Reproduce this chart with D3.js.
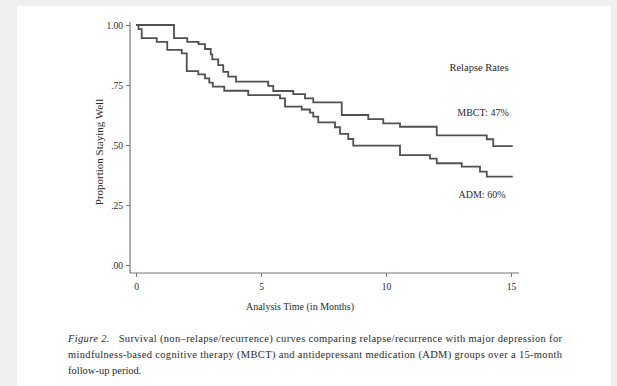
<!DOCTYPE html>
<meta charset="utf-8">
<script src="https://d3js.org/d3.v7.min.js"></script>
<style>
  body { margin: 0; background: #f0f0f0; }
  text { font-family: "Liberation Serif", "Times New Roman", serif; fill: #2a2a2a; }
</style>
<div id="chart"></div>
<script>

    // step points: month, proportion staying well after the step
    var mbctTime = [0, 1.52, 2.05, 2.5, 2.76, 2.99, 3.05, 3.29, 3.49, 3.69, 4.0, 5.29, 5.49, 6.29, 6.76, 7.09, 8.23, 9.29, 9.89, 10.56, 12.03, 14.03, 14.29, 15.07]
    var mbctSurv = [1.0, 0.945, 0.93, 0.92, 0.90, 0.878, 0.857, 0.833, 0.805, 0.785, 0.764, 0.746, 0.725, 0.712, 0.694, 0.678, 0.625, 0.608, 0.59, 0.576, 0.54, 0.524, 0.495, 0.495]

    var admTime = [0, 0.1, 0.23, 0.83, 1.25, 1.83, 2.03, 2.49, 2.76, 2.93, 3.07, 3.53, 4.49, 5.76, 5.96, 6.63, 6.96, 7.09, 7.29, 7.96, 8.16, 8.49, 8.69, 10.56, 11.76, 12.03, 13.03, 13.76, 14.03, 15.07]
    var admSurv = [1.0, 0.983, 0.945, 0.93, 0.896, 0.882, 0.808, 0.794, 0.778, 0.76, 0.743, 0.726, 0.708, 0.694, 0.66, 0.648, 0.635, 0.618, 0.594, 0.574, 0.546, 0.525, 0.497, 0.458, 0.443, 0.424, 0.41, 0.389, 0.368, 0.368]

    var yTicks = [0, 0.25, 0.5, 0.75, 1]
    var yTickLabels = [".00", ".25", ".50", ".75", "1.00"]
    var xTicks = [0, 5, 10, 15]

    var captionLines = [
        "Survival (non\u2013relapse/recurrence) curves comparing relapse/recurrence with major depression for",
        "mindfulness-based cognitive therapy (MBCT) and antidepressant medication (ADM) groups over a 15-month",
        "follow-up period."
    ]

    var W = 617, H = 386

    var svg = d3.select("#chart")
        .append("svg")
        .attr("width", W)
        .attr("height", H)

    // white page panel
    svg.append("rect")
        .attr("x", 17).attr("y", 6)
        .attr("width", 594).attr("height", H - 6)
        .attr("fill", "#fff")

    var x = d3.scaleLinear().domain([0, 15]).range([136, 511])
    var y = d3.scaleLinear().domain([0, 1]).range([265, 25])

    var axisX = 130, axisY = 273

    // axis lines
    svg.append("line")
        .attr("x1", axisX).attr("x2", axisX)
        .attr("y1", y(1) - 3).attr("y2", axisY)
        .attr("stroke", "#777").attr("stroke-width", 1.2)
    svg.append("line")
        .attr("x1", axisX).attr("x2", x(15) + 8)
        .attr("y1", axisY).attr("y2", axisY)
        .attr("stroke", "#777").attr("stroke-width", 1.2)

    // Y axis
    var gy = svg.append("g")
        .attr("transform", "translate(" + axisX + ",0)")
        .call(d3.axisLeft(y).tickValues(yTicks).tickSize(4).tickPadding(3)
            .tickFormat(function (d, i) { return yTickLabels[i]; }))
    gy.select(".domain").remove()
    gy.selectAll("line").attr("stroke", "#777")
    gy.selectAll("text").attr("font-size", 9.5).attr("fill", "#2a2a2a")
        .style("font-family", "Liberation Serif, serif")

    // X axis
    var gx = svg.append("g")
        .attr("transform", "translate(0," + axisY + ")")
        .call(d3.axisBottom(x).tickValues(xTicks).tickSize(4).tickPadding(6))
    gx.select(".domain").remove()
    gx.selectAll("line").attr("stroke", "#777")
    gx.selectAll("text").attr("font-size", 9.5).attr("fill", "#2a2a2a")
        .style("font-family", "Liberation Serif, serif")

    // survival curves
    var line = d3.line()
        .x(function (d) { return x(d[0]); })
        .y(function (d) { return y(d[1]); })
        .curve(d3.curveStepAfter)

    function pts(t, s) { return t.map(function (v, i) { return [v, s[i]]; }); }

    svg.append("path")
        .datum(pts(mbctTime, mbctSurv))
        .attr("d", line)
        .attr("fill", "none").attr("stroke", "#505050").attr("stroke-width", 1.8)

    svg.append("path")
        .datum(pts(admTime, admSurv))
        .attr("d", line)
        .attr("fill", "none").attr("stroke", "#505050").attr("stroke-width", 1.8)

    // axis titles
    svg.append("text")
        .attr("transform", "translate(103,152)rotate(-90)")
        .attr("text-anchor", "middle")
        .attr("font-size", 11)
        .text("Proportion Staying Well")

    svg.append("text")
        .attr("x", 300).attr("y", 310)
        .attr("text-anchor", "middle")
        .attr("font-size", 10)
        .text("Analysis Time (in Months)")

    // legend text
    svg.append("text").attr("x", 479).attr("y", 71).attr("text-anchor", "middle")
        .attr("font-size", 10.5).text("Relapse Rates")
    svg.append("text").attr("x", 483).attr("y", 116).attr("text-anchor", "middle")
        .attr("font-size", 10).text("MBCT: 47%")
    svg.append("text").attr("x", 482).attr("y", 198).attr("text-anchor", "middle")
        .attr("font-size", 10).text("ADM: 60%")

    // caption
    var cap1 = svg.append("text").attr("x", 68).attr("y", 342).attr("font-size", 10.5)
        .attr("textLength", 494).attr("lengthAdjust", "spacing")
    cap1.append("tspan").attr("font-style", "italic").text("Figure 2.")
    cap1.append("tspan").text("\u00a0\u00a0 " + captionLines[0])

    svg.append("text").attr("x", 68).attr("y", 358).attr("font-size", 10.5)
        .attr("textLength", 494).attr("lengthAdjust", "spacing")
        .text(captionLines[1])
    svg.append("text").attr("x", 68).attr("y", 374).attr("font-size", 10.5)
        .text(captionLines[2])

</script>
